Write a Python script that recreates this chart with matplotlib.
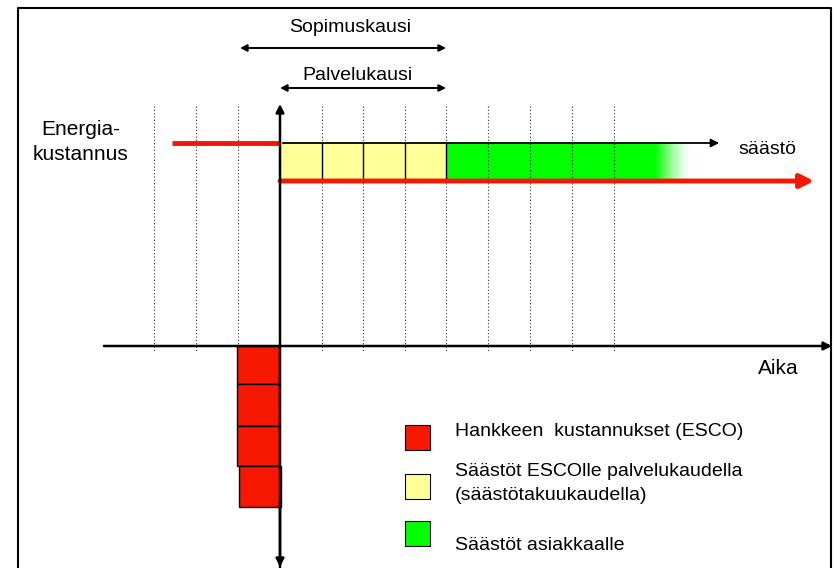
import matplotlib
matplotlib.use('Agg')
import matplotlib.pyplot as plt
import numpy as np
from matplotlib.patches import Rectangle

plt.rcParams['font.family'] = ['Liberation Sans', 'DejaVu Sans']

# diagram layout in picture pixels (x right, y down)
grid_x = [154, 196, 238, 322, 363, 405, 446, 488, 530, 572, 614]
origin_x = 280
axis_y = 346
energy_y = 143
saving_y = 181
yellow_end = 446
green_solid_end = 655
green_fade_end = 692
cost_blocks = [(237, 346, 384), (237, 384, 426), (237, 426, 466), (239, 466, 507)]
yellow_lines = [322, 363, 405]

legend_items = [
    ('#f51700', ['Hankkeen  kustannukset (ESCO)'], 425),
    ('#ffff99', ['Säästöt ESCOlle palvelukaudella', '(säästötakuukaudella)'], 474),
    ('#00ff00', ['Säästöt asiakkaalle'], 521),
]

RED = '#f51700'

fig = plt.figure(figsize=(8.36, 5.68), dpi=100)
ax = fig.add_axes([0, 0, 1, 1])

# frame
ax.plot([18, 18, 831, 831], [570, 8, 8, 570], color='black', lw=1.5)

# dotted grid
for gx in grid_x:
    ax.plot([gx, gx], [106, 352], color='#333333', lw=0.8, ls=(0, (1, 2)), zorder=1)

# yellow and green savings
ax.add_patch(Rectangle((origin_x, energy_y), yellow_end - origin_x, saving_y - energy_y,
                       facecolor='#ffff99', edgecolor='none', zorder=2))
ax.add_patch(Rectangle((yellow_end, energy_y), green_solid_end - yellow_end, saving_y - energy_y,
                       facecolor='#00ff00', edgecolor='none', zorder=2))
fade = np.zeros((1, 64, 4))
fade[..., 1] = 1.0
fade[0, :, 3] = np.linspace(1, 0, 64) ** 1.5
ax.imshow(fade, extent=(green_solid_end, green_fade_end, saving_y, energy_y),
          aspect='auto', zorder=2, interpolation='bilinear')
ax.set_xlim(0, 836)
ax.set_ylim(568, 0)
ax.axis('off')

for gx in grid_x:
    if gx > yellow_end:
        ax.plot([gx, gx], [energy_y, saving_y], color='black', lw=0.8, ls=(0, (1, 2)), zorder=3)
for lx in yellow_lines + [yellow_end]:
    ax.plot([lx, lx], [energy_y, saving_y], color='black', lw=1.0, zorder=3)

# top saving arrow
ax.annotate('', xy=(722, energy_y), xytext=(origin_x, energy_y),
            arrowprops=dict(arrowstyle='-|>', color='black', lw=1.3, mutation_scale=12), zorder=4)
ax.text(738, 149, 'säästö', fontsize=14, va='center', ha='left')

# energy cost lines
ax.plot([172, origin_x], [energy_y, energy_y], color=RED, lw=3.5, zorder=4, solid_capstyle='butt')
ax.annotate('', xy=(814, saving_y), xytext=(origin_x, saving_y),
            arrowprops=dict(arrowstyle='-|>', color=RED, lw=3.5, mutation_scale=20,
                            shrinkA=0, shrinkB=0), zorder=4)

# cost blocks
for bx, y0, y1 in cost_blocks:
    ax.add_patch(Rectangle((bx, y0), 42, y1 - y0, facecolor=RED, edgecolor='black', lw=1.0, zorder=3))

# axes
ax.annotate('', xy=(origin_x, 104), xytext=(origin_x, 570),
            arrowprops=dict(arrowstyle='-|>', color='black', lw=1.8, mutation_scale=12, shrinkA=0, shrinkB=0), zorder=5)
ax.annotate('', xy=(origin_x, 567), xytext=(origin_x, 500),
            arrowprops=dict(arrowstyle='-|>', color='black', lw=1.8, mutation_scale=12, shrinkA=0, shrinkB=0), zorder=5)
ax.annotate('', xy=(832, axis_y), xytext=(104, axis_y),
            arrowprops=dict(arrowstyle='-|>', color='black', lw=1.8, mutation_scale=12, shrinkA=0, shrinkB=0), zorder=5)

# period arrows
ax.annotate('', xy=(240, 48), xytext=(446, 48),
            arrowprops=dict(arrowstyle='<|-|>', color='black', lw=1.4, mutation_scale=10, shrinkA=0, shrinkB=0))
ax.text(350, 28, 'Sopimuskausi', fontsize=14, ha='center', va='center')
ax.annotate('', xy=(280, 88), xytext=(446, 88),
            arrowprops=dict(arrowstyle='<|-|>', color='black', lw=1.4, mutation_scale=10, shrinkA=0, shrinkB=0))
ax.text(357, 75, 'Palvelukausi', fontsize=14, ha='center', va='center')

ax.text(81, 142, 'Energia-\nkustannus', fontsize=15, ha='center', va='center', linespacing=1.35)
ax.text(778, 368, 'Aika', fontsize=15, ha='center', va='center')

# legend
for color, lines, ly in legend_items:
    ax.add_patch(Rectangle((405, ly), 25, 25, facecolor=color, edgecolor='black', lw=0.8, zorder=3))
    if len(lines) > 1:
        ty = ly - 3
    elif color == '#00ff00':
        ty = ly + 25
    else:
        ty = ly + 7
    for i, line in enumerate(lines):
        ax.text(455, ty + i * 24, line, fontsize=14, ha='left', va='center')

fig.savefig('out.png', dpi=100)
